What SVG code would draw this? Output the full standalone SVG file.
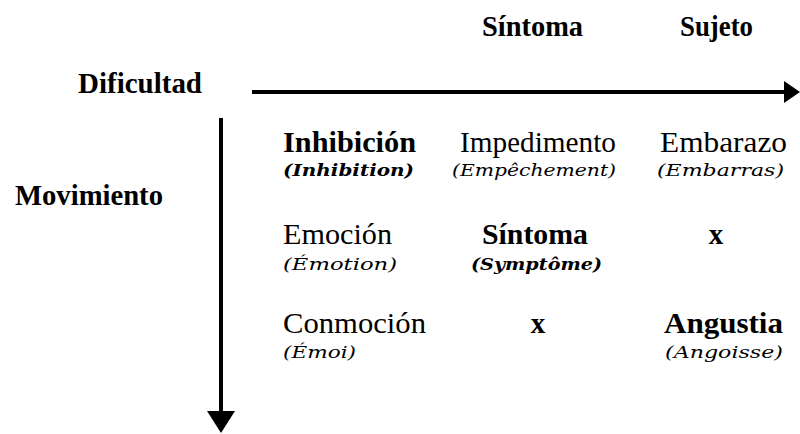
<svg xmlns="http://www.w3.org/2000/svg" width="800" height="434" viewBox="0 0 800 434">
<style>
.t{font-family:"Liberation Serif","Times New Roman",serif;font-size:29px;fill:#000}
.b{font-weight:bold}
.s{font-family:"DejaVu Serif","Liberation Serif",serif;font-style:italic;font-size:17px;fill:#000}
.ln{stroke:#000;stroke-width:4;fill:none}
</style>
<defs>
<marker id="ahH" viewBox="0 0 16 22" refX="0" refY="11" markerWidth="16" markerHeight="22" markerUnits="userSpaceOnUse" orient="auto"><path d="M0,0 L16,11 L0,22 z" fill="#000"/></marker>
<marker id="ahV" viewBox="0 0 22 28" refX="0" refY="14" markerWidth="22" markerHeight="28" markerUnits="userSpaceOnUse" orient="auto"><path d="M0,0 L22,14 L0,28 z" fill="#000"/></marker>
</defs>
<rect width="800" height="434" fill="#fff"/>
<g id="connectors">
<line class="ln" x1="252" y1="92" x2="784" y2="92" marker-end="url(#ahH)"/>
<line class="ln" x1="221" y1="118" x2="221" y2="411" marker-end="url(#ahV)"/>
</g>
<g id="header-sintoma"><text class="t b" x="482" y="36" textLength="101" lengthAdjust="spacingAndGlyphs">Síntoma</text></g>
<g id="header-sujeto"><text class="t b" x="680" y="36" textLength="73" lengthAdjust="spacingAndGlyphs">Sujeto</text></g>
<g id="axis-dificultad"><text class="t b" x="78" y="93" textLength="124" lengthAdjust="spacingAndGlyphs">Dificultad</text></g>
<g id="axis-movimiento"><text class="t b" x="15" y="205" textLength="148" lengthAdjust="spacingAndGlyphs">Movimiento</text></g>
<g id="inhibicion">
<text class="t b" x="283" y="152" textLength="133" lengthAdjust="spacingAndGlyphs">Inhibición</text>
<text class="s" x="283" y="176" font-weight="bold" textLength="131" lengthAdjust="spacingAndGlyphs">(Inhibition)</text>
</g>
<g id="impedimento">
<text class="t" x="460" y="152" textLength="156" lengthAdjust="spacingAndGlyphs">Impedimento</text>
<text class="s" x="452" y="176" textLength="164" lengthAdjust="spacingAndGlyphs">(Empêchement)</text>
</g>
<g id="embarazo">
<text class="t" x="660" y="152" textLength="127" lengthAdjust="spacingAndGlyphs">Embarazo</text>
<text class="s" x="657" y="176" textLength="127" lengthAdjust="spacingAndGlyphs">(Embarras)</text>
</g>
<g id="emocion">
<text class="t" x="283" y="244" textLength="109" lengthAdjust="spacingAndGlyphs">Emoción</text>
<text class="s" x="283" y="270" textLength="114" lengthAdjust="spacingAndGlyphs">(Émotion)</text>
</g>
<g id="sintoma">
<text class="t b" x="482" y="244" textLength="106" lengthAdjust="spacingAndGlyphs">Síntoma</text>
<text class="s" x="471" y="270" font-weight="bold" textLength="131" lengthAdjust="spacingAndGlyphs">(Symptôme)</text>
</g>
<g id="x-sujeto-emocion"><text class="t b" x="716" y="244" text-anchor="middle">x</text></g>
<g id="conmocion">
<text class="t" x="283" y="333" textLength="143" lengthAdjust="spacingAndGlyphs">Conmoción</text>
<text class="s" x="283" y="358" textLength="73" lengthAdjust="spacingAndGlyphs">(Émoi)</text>
</g>
<g id="x-sintoma-conmocion"><text class="t b" x="538" y="333" text-anchor="middle">x</text></g>
<g id="angustia">
<text class="t b" x="664" y="333" textLength="119" lengthAdjust="spacingAndGlyphs">Angustia</text>
<text class="s" x="665" y="358" textLength="118" lengthAdjust="spacingAndGlyphs">(Angoisse)</text>
</g>
</svg>
